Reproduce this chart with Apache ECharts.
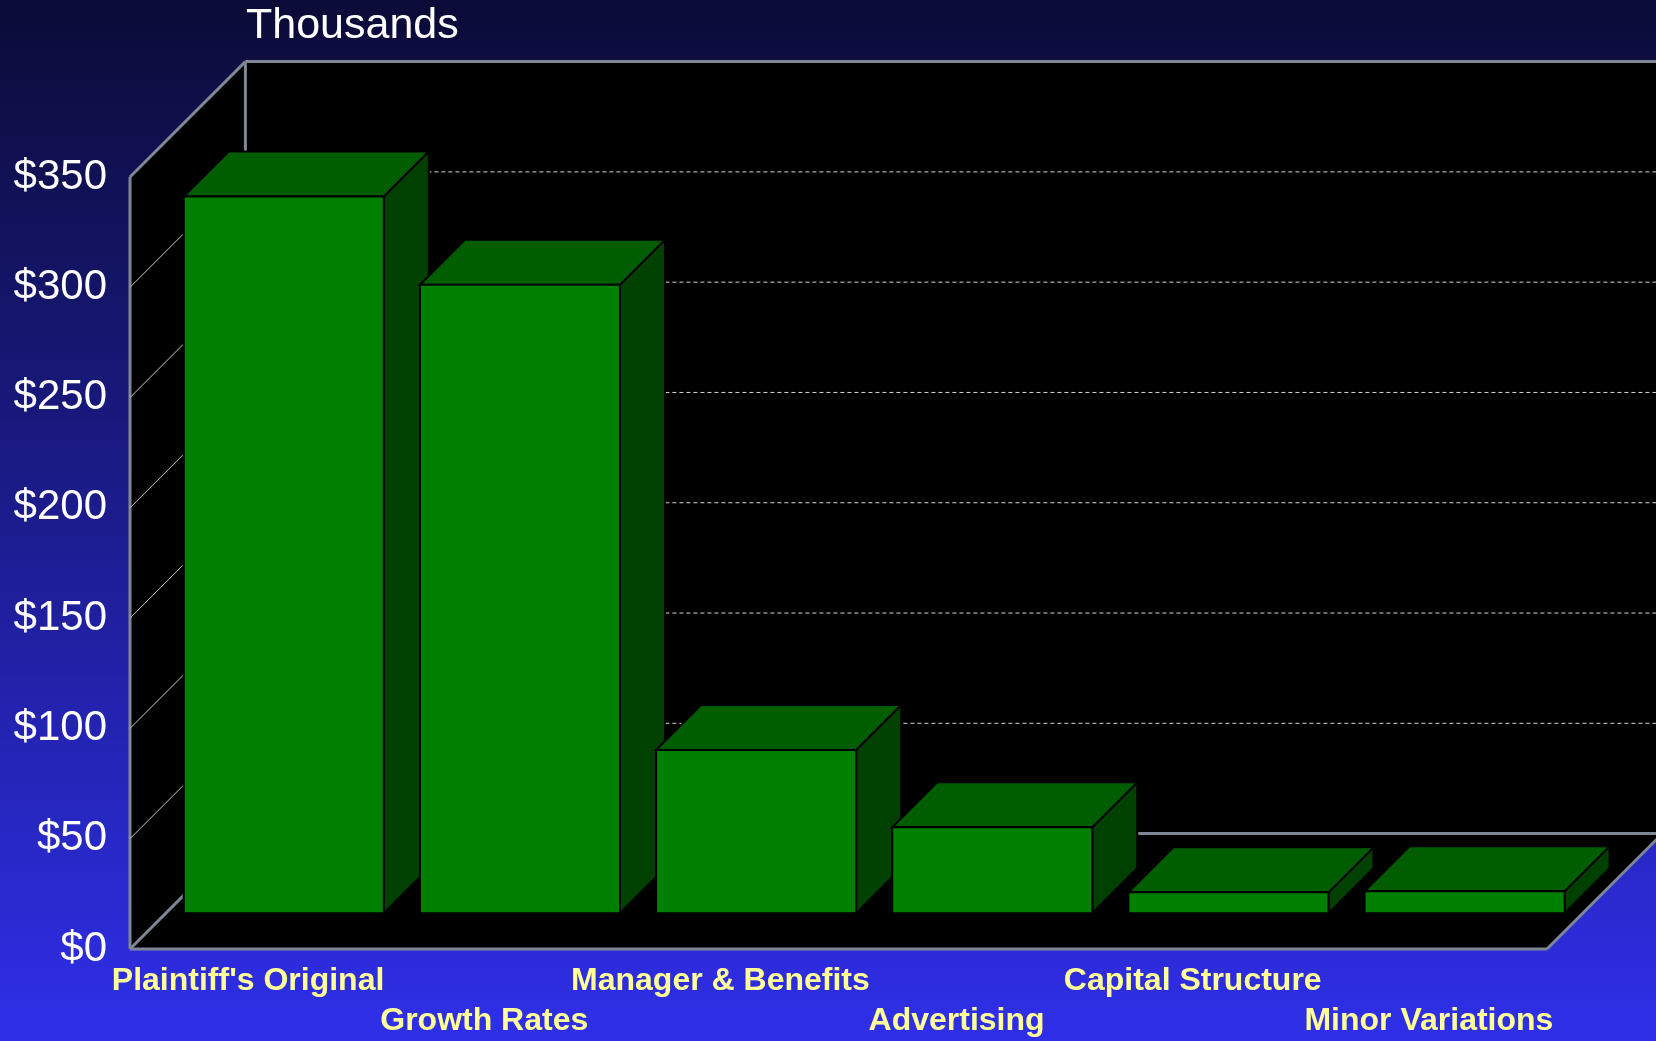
<!DOCTYPE html>
<html>
<head>
<meta charset="utf-8">
<script src="https://cdn.jsdelivr.net/npm/echarts@6/dist/echarts.min.js"></script>
<style>
  html, body { margin: 0; padding: 0; background: #0b0b37; }
  #chart { width: 1656px; height: 1041px; }
</style>
</head>
<body>
<div id="chart"></div>
<script>
// Damage estimate steps, in thousands of dollars
const categories = [
  "Plaintiff's Original",
  "Growth Rates",
  "Manager & Benefits",
  "Advertising",
  "Capital Structure",
  "Minor Variations"
];
const values = [325, 285, 74, 39, 9.5, 10];
const yTicks = [0, 50, 100, 150, 200, 250, 300, 350];

// 3D box geometry (pixels)
const WALL_DEPTH = 115.4;   // depth of the floor / side wall
const BAR_INSET = 35.7;     // distance of a bar's front face behind the front plane
const BAR_DEPTH = 45;       // depth of each bar
const BAR_RATIO = 0.847;    // bar width as a share of the category band

const EDGE = '#7f8797';
const FONT = '"Liberation Sans", Arial, sans-serif';

const chart = echarts.init(document.getElementById('chart'));

function renderWalls(params, api) {
  const cs = params.coordSys;
  const x0 = cs.x, y0 = cs.y, W = cs.width, H = cs.height, D = WALL_DEPTH;
  const yb = y0 + H;
  const edge = { stroke: EDGE, lineWidth: 3, fill: null };
  return {
    type: 'group',
    children: [
      { type: 'rect', shape: { x: x0 + D, y: y0 - D, width: W + 10, height: H }, style: { fill: '#000' } },
      { type: 'polygon', shape: { points: [[x0, y0], [x0 + D, y0 - D], [x0 + D, yb - D], [x0, yb]] }, style: { fill: '#000' } },
      { type: 'polygon', shape: { points: [[x0, yb], [x0 + W, yb], [x0 + W + D, yb - D], [x0 + D, yb - D]] }, style: { fill: '#000' } },
      { type: 'line', shape: { x1: x0, y1: y0, x2: x0, y2: yb }, style: edge },
      { type: 'line', shape: { x1: x0, y1: yb, x2: x0 + W, y2: yb }, style: edge },
      { type: 'line', shape: { x1: x0 + W, y1: yb, x2: x0 + W + D, y2: yb - D }, style: edge },
      { type: 'line', shape: { x1: x0 + D, y1: y0 - D, x2: x0 + W + D + 10, y2: y0 - D }, style: edge },
      { type: 'line', shape: { x1: x0 + D, y1: y0 - D, x2: x0 + D, y2: yb - D }, style: edge },
      { type: 'line', shape: { x1: x0 + D, y1: yb - D, x2: x0 + W + D + 10, y2: yb - D }, style: edge }
    ]
  };
}

function renderGridLine(params, api) {
  const cs = params.coordSys;
  const v = api.value(1);
  const y = api.coord([0, v])[1];
  const x0 = cs.x, W = cs.width, D = WALL_DEPTH;
  const isEdge = (v === yTicks[0] || v === yTicks[yTicks.length - 1]);
  const children = [{
    type: 'line',
    shape: { x1: x0, y1: y, x2: x0 + D, y2: y - D },
    style: isEdge ? { stroke: EDGE, lineWidth: 3 } : { stroke: '#c8c8c8', lineWidth: 1 }
  }];
  if (!isEdge) {
    children.push({
      type: 'line',
      shape: { x1: x0 + D, y1: y - D, x2: x0 + W + D + 10, y2: y - D },
      style: { stroke: '#d4d4d4', lineWidth: 1, lineDash: [4, 3] }
    });
  }
  return { type: 'group', children: children };
}

function renderBar(params, api) {
  const idx = api.value(0);
  const val = api.value(1);
  const base = api.coord([idx, 0]);
  const top = api.coord([idx, val]);
  const band = api.size([1, 0])[0];
  const bw = band * BAR_RATIO;
  const xl = base[0] - bw / 2 + BAR_INSET;
  const xr = xl + bw;
  const yb = base[1] - BAR_INSET;
  const yt = top[1] - BAR_INSET;
  const d = BAR_DEPTH;
  const stroke = { stroke: '#000', lineWidth: 2, lineJoin: 'miter' };
  return {
    type: 'group',
    children: [
      { type: 'polygon', shape: { points: [[xr, yt], [xr + d, yt - d], [xr + d, yb - d], [xr, yb]] },
        style: Object.assign({ fill: '#004000' }, stroke) },
      { type: 'polygon', shape: { points: [[xl, yt], [xr, yt], [xr + d, yt - d], [xl + d, yt - d]] },
        style: Object.assign({ fill: '#005e00' }, stroke) },
      { type: 'rect', shape: { x: xl, y: yt, width: bw, height: yb - yt },
        style: Object.assign({ fill: '#008000' }, stroke) }
    ]
  };
}

chart.setOption({
  animation: false,
  backgroundColor: {
    type: 'linear', x: 0, y: 0, x2: 0, y2: 1,
    colorStops: [
      { offset: 0, color: '#0b0b37' },
      { offset: 0.5, color: '#1c1c8e' },
      { offset: 1, color: '#2f2fe9' }
    ]
  },
  title: {
    text: 'Thousands',
    left: 241,
    top: 0,
    textStyle: { color: '#ffffff', fontSize: 43, fontWeight: 'normal', fontFamily: FONT }
  },
  grid: { left: 130, top: 177, width: 1417, height: 773.7, containLabel: false },
  xAxis: {
    type: 'category',
    data: categories,
    boundaryGap: true,
    axisLine: { show: false },
    axisTick: { show: false },
    splitLine: { show: false },
    axisLabel: {
      interval: 0,
      margin: 12,
      color: '#ffff99',
      fontSize: 32,
      fontWeight: 'bold',
      fontFamily: FONT,
      lineHeight: 40,
      formatter: function (v, i) { return i % 2 ? '\n' + v : v; }
    }
  },
  yAxis: {
    type: 'value',
    min: 0,
    max: 350,
    interval: 50,
    axisLine: { show: false },
    axisTick: { show: false },
    splitLine: { show: false },
    axisLabel: {
      margin: 23,
      color: '#ffffff',
      fontSize: 42,
      fontFamily: FONT,
      formatter: function (v) { return '$' + v; }
    }
  },
  series: [
    {
      type: 'custom', name: 'walls', z: 1, clip: false, silent: true,
      renderItem: renderWalls,
      encode: { x: 0, y: 1 },
      data: [[0, 0]]
    },
    {
      type: 'custom', name: 'gridlines', z: 2, clip: false, silent: true,
      renderItem: renderGridLine,
      encode: { x: 0, y: 1 },
      data: yTicks.map(function (t) { return [0, t]; })
    },
    {
      type: 'custom', name: 'Damages', z: 3, clip: false,
      renderItem: renderBar,
      encode: { x: 0, y: 1 },
      data: values.map(function (v, i) { return [i, v]; })
    }
  ]
});
</script>
</body>
</html>
